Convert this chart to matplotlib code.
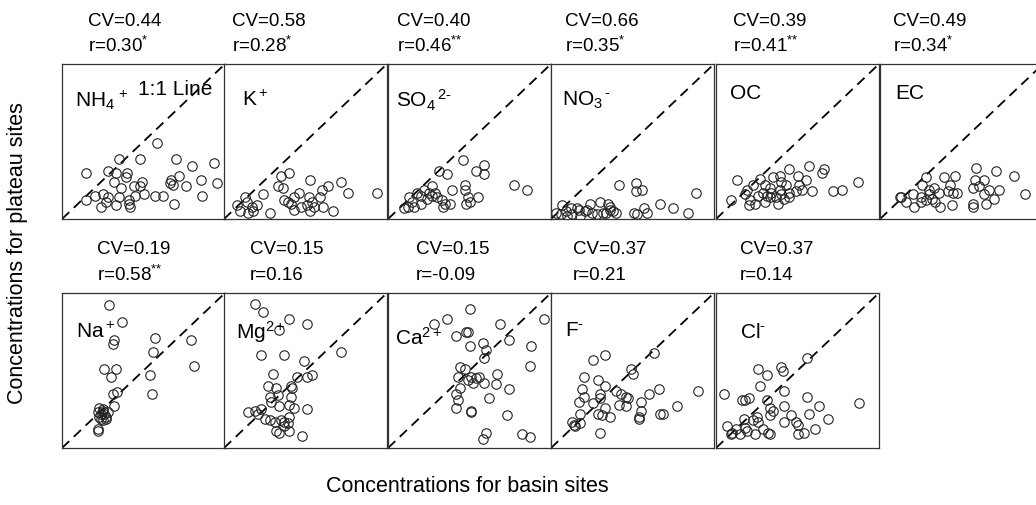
import matplotlib
matplotlib.use('Agg')
import matplotlib.pyplot as plt

plt.rcParams['font.family'] = ['Liberation Sans', 'DejaVu Sans']
plt.rcParams['mathtext.fontset'] = 'custom'
plt.rcParams['mathtext.rm'] = 'Liberation Sans'
plt.rcParams['mathtext.it'] = 'Liberation Sans'
plt.rcParams['mathtext.bf'] = 'Liberation Sans:bold'

# species, statistics (values are relative to each panel's axis range)
species = [r'NH$_4$$^{\,+}$', r'K$^+$', r'SO$_4$$^{\,2\text{-}}$', r'NO$_3$$^{\,\text{-}}$', 'OC', 'EC',
           r'Na$^+$', r'Mg$^{2+}$', r'Ca$^{2+}$', r'F$^{\text{-}}$', r'Cl$^{\text{-}}$']
cv_values = ['0.44', '0.58', '0.40', '0.66', '0.39', '0.49',
             '0.19', '0.15', '0.15', '0.37', '0.37']
r_values = ['0.30', '0.28', '0.46', '0.35', '0.41', '0.34',
            '0.58', '0.16', '-0.09', '0.21', '0.14']
r_signif = ['*', '*', '**', '*', '**', '*', '**', '', '', '', '']

nh4_basin = [0.58, 0.35, 0.48, 0.70, 0.93, 0.80, 0.15, 0.28, 0.33, 0.40, 0.39, 0.32, 0.49,
             0.44, 0.67, 0.72, 0.85, 0.95, 0.68, 0.76, 0.36, 0.48, 0.20, 0.15, 0.25, 0.28,
             0.35, 0.45, 0.50, 0.57, 0.62, 0.86, 0.24, 0.33, 0.41, 0.42, 0.69, 0.27, 0.41, 0.66]
nh4_plateau = [0.49, 0.39, 0.39, 0.39, 0.36, 0.34, 0.30, 0.31, 0.30, 0.30, 0.27, 0.24, 0.24,
               0.21, 0.25, 0.28, 0.25, 0.23, 0.22, 0.21, 0.20, 0.21, 0.15, 0.12, 0.16, 0.14,
               0.14, 0.15, 0.16, 0.15, 0.15, 0.15, 0.08, 0.09, 0.10, 0.08, 0.10, 0.11, 0.12, 0.23]

k_basin = [0.40, 0.35, 0.53, 0.72, 0.76, 0.94, 0.33, 0.36, 0.46, 0.60, 0.64, 0.24, 0.13,
           0.08, 0.10, 0.15, 0.17, 0.20, 0.28, 0.37, 0.39, 0.41, 0.43, 0.47, 0.52, 0.54,
           0.55, 0.53, 0.59, 0.61, 0.67, 0.14, 0.18, 0.51, 0.43]
k_plateau = [0.30, 0.28, 0.25, 0.24, 0.17, 0.17, 0.21, 0.20, 0.17, 0.19, 0.21, 0.16, 0.14,
             0.09, 0.05, 0.04, 0.08, 0.09, 0.04, 0.12, 0.11, 0.10, 0.06, 0.08, 0.14, 0.11,
             0.08, 0.05, 0.14, 0.08, 0.05, 0.11, 0.05, 0.09, 0.14]

so4_basin = [0.46, 0.59, 0.54, 0.59, 0.31, 0.36, 0.77, 0.85, 0.47, 0.47, 0.39, 0.27, 0.22,
             0.18, 0.13, 0.15, 0.10, 0.16, 0.20, 0.24, 0.27, 0.29, 0.33, 0.35, 0.38, 0.34,
             0.49, 0.55, 0.50, 0.48, 0.12, 0.20, 0.25, 0.30]
so4_plateau = [0.38, 0.35, 0.31, 0.29, 0.31, 0.29, 0.22, 0.19, 0.22, 0.19, 0.19, 0.21, 0.19,
               0.17, 0.14, 0.11, 0.07, 0.08, 0.10, 0.13, 0.15, 0.17, 0.12, 0.10, 0.10, 0.08,
               0.14, 0.14, 0.11, 0.10, 0.08, 0.15, 0.17, 0.14]

no3_basin = [0.42, 0.52, 0.52, 0.56, 0.89, 0.67, 0.75, 0.84, 0.07, 0.12, 0.17, 0.24, 0.30,
             0.35, 0.36, 0.40, 0.51, 0.53, 0.57, 0.59, 0.03, 0.06, 0.09, 0.13, 0.18, 0.21,
             0.25, 0.28, 0.32, 0.38, 0.10, 0.16, 0.22, 0.36, 0.34]
no3_plateau = [0.22, 0.23, 0.18, 0.19, 0.17, 0.10, 0.07, 0.04, 0.09, 0.07, 0.06, 0.10, 0.11,
               0.10, 0.06, 0.04, 0.04, 0.03, 0.07, 0.04, 0.04, 0.03, 0.05, 0.03, 0.02, 0.05,
               0.04, 0.03, 0.04, 0.05, 0.02, 0.07, 0.06, 0.08, 0.04]

oc_basin = [0.57, 0.66, 0.65, 0.45, 0.13, 0.27, 0.35, 0.39, 0.50, 0.55, 0.72, 0.77, 0.87,
            0.09, 0.19, 0.23, 0.30, 0.33, 0.40, 0.43, 0.51, 0.59, 0.53, 0.26, 0.29, 0.31,
            0.34, 0.39, 0.45, 0.49, 0.21, 0.20, 0.24, 0.30, 0.38, 0.42, 0.45, 0.33, 0.37,
            0.18, 0.40]
oc_plateau = [0.34, 0.32, 0.30, 0.32, 0.25, 0.26, 0.27, 0.28, 0.28, 0.25, 0.18, 0.19, 0.24,
              0.12, 0.19, 0.22, 0.22, 0.20, 0.24, 0.22, 0.22, 0.18, 0.19, 0.15, 0.17, 0.15,
              0.17, 0.19, 0.17, 0.18, 0.12, 0.09, 0.10, 0.11, 0.10, 0.13, 0.14, 0.14, 0.14,
              0.16, 0.16]

ec_basin = [0.59, 0.71, 0.82, 0.28, 0.39, 0.46, 0.58, 0.64, 0.57, 0.61, 0.67, 0.73, 0.89,
            0.13, 0.20, 0.26, 0.30, 0.33, 0.36, 0.42, 0.45, 0.47, 0.43, 0.25, 0.30, 0.32,
            0.34, 0.37, 0.21, 0.25, 0.44, 0.57, 0.57, 0.65, 0.70, 0.64, 0.16, 0.28, 0.12]
ec_plateau = [0.33, 0.31, 0.28, 0.27, 0.27, 0.28, 0.25, 0.25, 0.20, 0.21, 0.19, 0.19, 0.16,
              0.14, 0.16, 0.22, 0.19, 0.20, 0.17, 0.18, 0.17, 0.17, 0.22, 0.14, 0.16, 0.13,
              0.11, 0.08, 0.08, 0.11, 0.09, 0.10, 0.08, 0.10, 0.13, 0.16, 0.11, 0.12, 0.14]

na_basin = [0.29, 0.37, 0.32, 0.31, 0.57, 0.56, 0.79, 0.81, 0.26, 0.33, 0.30, 0.54, 0.55,
            0.31, 0.34, 0.32, 0.23, 0.25, 0.24, 0.27, 0.22, 0.25, 0.24, 0.28, 0.25, 0.26,
            0.23, 0.27, 0.22, 0.22]
na_plateau = [0.92, 0.81, 0.70, 0.67, 0.71, 0.62, 0.70, 0.53, 0.51, 0.51, 0.46, 0.47, 0.35,
              0.35, 0.36, 0.27, 0.26, 0.24, 0.22, 0.20, 0.23, 0.18, 0.19, 0.23, 0.25, 0.22,
              0.20, 0.19, 0.12, 0.11]

mg_basin = [0.19, 0.24, 0.40, 0.51, 0.34, 0.72, 0.23, 0.37, 0.49, 0.30, 0.45, 0.51, 0.54,
            0.27, 0.32, 0.41, 0.42, 0.28, 0.33, 0.41, 0.29, 0.34, 0.40, 0.43, 0.51, 0.15,
            0.19, 0.21, 0.23, 0.25, 0.28, 0.31, 0.35, 0.37, 0.40, 0.39, 0.32, 0.34, 0.40,
            0.48, 0.37]
mg_plateau = [0.93, 0.88, 0.83, 0.80, 0.76, 0.62, 0.60, 0.60, 0.56, 0.48, 0.46, 0.46, 0.47,
              0.40, 0.39, 0.40, 0.39, 0.33, 0.34, 0.33, 0.30, 0.27, 0.28, 0.26, 0.25, 0.23,
              0.24, 0.22, 0.25, 0.19, 0.18, 0.17, 0.18, 0.17, 0.20, 0.16, 0.11, 0.10, 0.11,
              0.08, 0.14]

ca_basin = [0.50, 0.36, 0.28, 0.96, 0.69, 0.48, 0.49, 0.42, 0.74, 0.50, 0.58, 0.60, 0.59,
            0.88, 0.87, 0.44, 0.47, 0.43, 0.51, 0.54, 0.56, 0.52, 0.49, 0.59, 0.67, 0.66,
            0.74, 0.44, 0.42, 0.43, 0.62, 0.42, 0.51, 0.51, 0.73, 0.60, 0.58, 0.82, 0.87]
ca_plateau = [0.90, 0.83, 0.80, 0.83, 0.80, 0.75, 0.75, 0.72, 0.70, 0.66, 0.68, 0.63, 0.58,
              0.66, 0.53, 0.52, 0.51, 0.46, 0.46, 0.45, 0.46, 0.42, 0.44, 0.42, 0.48, 0.41,
              0.38, 0.39, 0.35, 0.31, 0.32, 0.26, 0.24, 0.23, 0.21, 0.10, 0.06, 0.09, 0.07]

f_basin = [0.33, 0.26, 0.63, 0.49, 0.50, 0.20, 0.29, 0.33, 0.19, 0.20, 0.17, 0.26, 0.30,
           0.30, 0.40, 0.43, 0.46, 0.47, 0.42, 0.46, 0.55, 0.60, 0.66, 0.90, 0.77, 0.55,
           0.54, 0.54, 0.67, 0.69, 0.18, 0.13, 0.14, 0.18, 0.15, 0.29, 0.31, 0.36, 0.30, 0.33]
f_plateau = [0.60, 0.57, 0.61, 0.51, 0.48, 0.46, 0.44, 0.40, 0.38, 0.33, 0.30, 0.29, 0.35,
             0.32, 0.37, 0.35, 0.33, 0.32, 0.28, 0.27, 0.30, 0.35, 0.38, 0.37, 0.27, 0.24,
             0.20, 0.19, 0.22, 0.22, 0.22, 0.17, 0.15, 0.16, 0.14, 0.22, 0.21, 0.20, 0.10, 0.26]

cl_basin = [0.56, 0.26, 0.31, 0.40, 0.41, 0.27, 0.05, 0.42, 0.16, 0.18, 0.20, 0.31, 0.56,
            0.33, 0.35, 0.42, 0.63, 0.88, 0.33, 0.17, 0.23, 0.26, 0.25, 0.46, 0.49, 0.57,
            0.69, 0.42, 0.50, 0.61, 0.07, 0.10, 0.12, 0.18, 0.19, 0.24, 0.32, 0.33, 0.29,
            0.50, 0.54, 0.15, 0.09]
cl_plateau = [0.58, 0.51, 0.47, 0.52, 0.50, 0.40, 0.35, 0.37, 0.31, 0.31, 0.32, 0.31, 0.33,
              0.26, 0.24, 0.27, 0.27, 0.29, 0.21, 0.19, 0.18, 0.17, 0.20, 0.21, 0.17, 0.22,
              0.19, 0.17, 0.15, 0.12, 0.14, 0.10, 0.12, 0.13, 0.11, 0.09, 0.10, 0.09, 0.12,
              0.09, 0.10, 0.09, 0.09]

basin = [nh4_basin, k_basin, so4_basin, no3_basin, oc_basin, ec_basin,
         na_basin, mg_basin, ca_basin, f_basin, cl_basin]
plateau = [nh4_plateau, k_plateau, so4_plateau, no3_plateau, oc_plateau, ec_plateau,
           na_plateau, mg_plateau, ca_plateau, f_plateau, cl_plateau]

# layout in pixels of the 1036x505 canvas
W, H = 1036, 505
panel_w, panel_h = 163, 155
row_top = [64, 293]
panel_left = [62, 224, 388, 551, 716, 880]
title_x = [88, 232, 397, 565, 733, 893, 97, 250, 416, 573, 740]
label_pos = [(75, 100), (242, 100), (396, 100), (562, 100), (730, 94), (895, 94),
             (76, 332), (236, 332), (395, 338), (565, 330), (740, 333)]

fig = plt.figure(figsize=(W / 100, H / 100), dpi=100)

for i in range(len(species)):
    row = 0 if i < 6 else 1
    col = i if i < 6 else i - 6
    left = panel_left[col]
    top = row_top[row]
    ax = fig.add_axes([left / W, (H - top - panel_h) / H, panel_w / W, panel_h / H])
    ax.plot([0, 1], [0, 1], color='black', lw=1.3, linestyle=(0, (5.5, 3.5)))
    ax.plot(basin[i], plateau[i], 'o', mfc='none', mec='#222222', ms=6.8, mew=0.8)
    ax.set_xlim(0, 1)
    ax.set_ylim(0, 1)
    ax.set_xticks([])
    ax.set_yticks([])
    for s in ax.spines.values():
        s.set_linewidth(0.9)
        s.set_color('#333333')

    # statistics above the panel
    tx = title_x[i] / W
    fig.text(tx, 1 - (top - 43) / H, 'CV=' + cv_values[i], fontsize=13.5, va='center', ha='left')
    if r_signif[i]:
        r_txt = 'r=' + r_values[i] + r'$^{\text{' + r_signif[i] + '}}$'
    else:
        r_txt = 'r=' + r_values[i]
    fig.text(tx, 1 - (top - 18) / H, r_txt, fontsize=13.5, va='center', ha='left')

    lx, ly = label_pos[i]
    fig.text(lx / W, 1 - ly / H, species[i], fontsize=15, va='center', ha='left')

fig.text(138 / W, 1 - 90 / H, '1:1 Line', fontsize=15, va='center', ha='left')

fig.text(18 / W, 1 - 253 / H, 'Concentrations for plateau sites', fontsize=15.5,
         rotation=90, va='center', ha='center')
fig.text(467 / W, 1 - 487 / H, 'Concentrations for basin sites', fontsize=15.5,
         va='center', ha='center')

fig.savefig('out.png', dpi=100)
